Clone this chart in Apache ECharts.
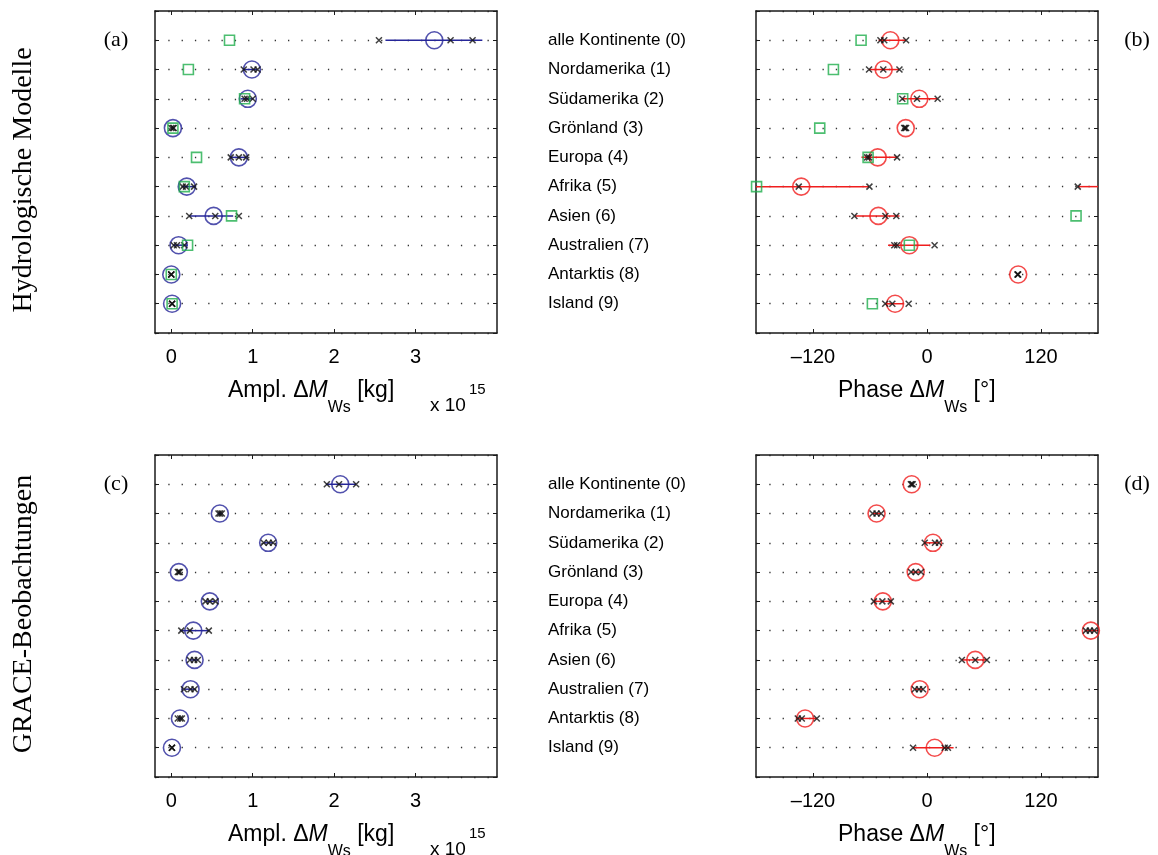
<!DOCTYPE html>
<html>
<head>
<meta charset="utf-8">
<script src="https://cdn.jsdelivr.net/npm/echarts@6/dist/echarts.min.js"></script>
<style>html,body{margin:0;padding:0;background:#fff;}#c{width:1158px;height:855px;}</style>
</head>
<body>
<div id="c"></div>
<script>
// ---------------- data ----------------
const categories = ['alle Kontinente (0)', 'Nordamerika (1)', 'Südamerika (2)', 'Grönland (3)', 'Europa (4)',
  'Afrika (5)', 'Asien (6)', 'Australien (7)', 'Antarktis (8)', 'Island (9)'];
const rows = [0, 1, 2, 3, 4, 5, 6, 7, 8, 9];
const ampTicks = [0, 1, 2, 3];
const phaseTicks = [-120, 0, 120];

// (a) hydrological models, amplitude [1e15 kg]
const ampHydMean = [3.23, 0.99, 0.94, 0.02, 0.83, 0.19, 0.52, 0.09, 0.00, 0.01];
const ampHydLo   = [2.63, 0.89, 0.85, 0.00, 0.73, 0.14, 0.22, 0.02, 0.00, 0.00];
const ampHydHi   = [3.82, 1.06, 1.01, 0.04, 0.92, 0.30, 0.76, 0.20, 0.01, 0.02];
const ampHydModels = [[2.55, 3.43, 3.70], [0.89, 1.01, 1.06], [0.90, 0.93, 1.00], [0.00, 0.02, 0.03], [0.73, 0.83, 0.92],
  [0.14, 0.18, 0.28], [0.22, 0.54, 0.83], [0.03, 0.07, 0.16], [0.00, 0.00, 0.00], [0.01, 0.01, 0.01]];
const ampHydSquare = [0.715, 0.21, 0.90, 0.02, 0.31, 0.16, 0.74, 0.20, 0.00, 0.01];

// (b) hydrological models, phase [deg]
const phHydMean = [-38.6, -45.6, -8.1, -22.4, -51.9, -132.4, -51.2, -18.6, 96.0, -33.6];
const phHydLo   = [-51, -61, -26, -24, -69, -201, -76, -41, 95, -44];
const phHydHi   = [-22, -29, 11, -21, -31, -61, -29, 3.5, 97, -25];
const phHydModels = [[-49, -45, -22], [-61, -46, -29], [-26, -10.5, 11.2], [-24, -23, -22], [-63, -61, -31.5],
  [-135, -60.6, 158.7], [-76.4, -43.8, -32.3], [-34.4, -31.5, 8.0], [95.3, 95.5, 96], [-44, -36.5, -19.3]];
const phHydSquare = [-69.4, -98.5, -25.6, -112.9, -62, -179.4, 156.9, -18.6, null, -57.5];

// (c) GRACE observations, amplitude [1e15 kg]
const ampGrMean = [2.075, 0.596, 1.19, 0.093, 0.473, 0.27, 0.286, 0.236, 0.106, 0.008];
const ampGrLo   = [1.90, 0.57, 1.13, 0.08, 0.42, 0.105, 0.23, 0.16, 0.08, 0.005];
const ampGrHi   = [2.27, 0.62, 1.25, 0.11, 0.54, 0.46, 0.33, 0.29, 0.13, 0.01];
const ampGrModels = [[1.91, 2.06, 2.27], [0.58, 0.60, 0.62], [1.135, 1.196, 1.25], [0.08, 0.093, 0.105], [0.42, 0.473, 0.543],
  [0.123, 0.228, 0.461], [0.228, 0.28, 0.326], [0.155, 0.236, 0.286], [0.08, 0.11, 0.13], [0.008, 0.008, 0.008]];

// (d) GRACE observations, phase [deg]
const phGrMean = [-16.1, -53.1, 6.3, -11.9, -46.5, 172.5, 50.8, -7.7, -128.3, 8.1];
const phGrLo   = [-17.5, -57.3, -2.4, -16.8, -56, 166, 36.7, -12.9, -136.5, -14.7];
const phGrHi   = [-14.5, -48.3, 12.6, -6.3, -38, 179, 63, -4.2, -116, 28];
const phGrModels = [[-17, -16, -15], [-57.3, -53.1, -48.3], [-2.4, 8.4, 12.6], [-16.8, -12, -6.3], [-55.9, -47, -38.1],
  [167.2, 171.4, 176], [36.7, 50.8, 63], [-12.9, -8.4, -4.2], [-136, -131.8, -116], [-14.7, 18.6, 22]];

// ---------------- style ----------------
const BLUE = '#262699', RED = '#f01e1e', GREEN = '#1fae4c', BLACK = '#111';
const SANS = 'Liberation Sans', SERIF = 'Liberation Serif';

const panels = [
  { left: 155, top: 11, kind: 'amp', mean: ampHydMean, lo: ampHydLo, hi: ampHydHi, models: ampHydModels, square: ampHydSquare, color: BLUE, names: false },
  { left: 756, top: 11, kind: 'phase', mean: phHydMean, lo: phHydLo, hi: phHydHi, models: phHydModels, square: phHydSquare, color: RED, names: true },
  { left: 155, top: 455, kind: 'amp', mean: ampGrMean, lo: ampGrLo, hi: ampGrHi, models: ampGrModels, square: null, color: BLUE, names: false },
  { left: 756, top: 455, kind: 'phase', mean: phGrMean, lo: phGrLo, hi: phGrHi, models: phGrModels, square: null, color: RED, names: true }
];
const W = 342, H = 322;

const grid = [], xAxis = [], yAxis = [], series = [];
const frame = { show: true, onZero: false, lineStyle: { color: '#1a1a1a', width: 1.5 } };
const tickIn = { show: true, inside: true, length: 4, lineStyle: { color: '#1a1a1a', width: 1 } };

function fmtPhase(v) { return v < 0 ? '\u2013' + Math.abs(v) : String(v); }

function segRender(color, min, max, period) {
  return function (params, api) {
    const lo = api.value(0), hi = api.value(1), y = api.value(2);
    const segs = [[Math.max(lo, min), Math.min(hi, max)]];
    if (period && lo < min) segs.push([lo + period, max]);
    if (period && hi > max) segs.push([min, hi - period]);
    return {
      type: 'group',
      children: segs.map(function (s) {
        const a = api.coord([s[0], y]), b = api.coord([s[1], y]);
        return { type: 'line', shape: { x1: a[0], y1: a[1], x2: b[0], y2: b[1] }, style: { stroke: color, lineWidth: 1.5 } };
      })
    };
  };
}

panels.forEach(function (p, i) {
  grid.push({ left: p.left, top: p.top, width: W, height: H });
  const isAmp = p.kind === 'amp';
  const min = isAmp ? -0.2 : -180, max = isAmp ? 4 : 180;
  const ticks = isAmp ? ampTicks : phaseTicks;
  xAxis.push({
    type: 'value', gridIndex: i, position: 'bottom', min: min, max: max,
    axisLine: frame, axisTick: Object.assign({}, tickIn, { customValues: ticks }),
    axisLabel: { show: true, customValues: ticks, formatter: isAmp ? (v) => String(v) : fmtPhase, fontFamily: SANS, fontSize: 20, color: '#000', margin: 14 },
    splitLine: { show: false }
  });
  xAxis.push({
    type: 'value', gridIndex: i, position: 'top', min: min, max: max,
    axisLine: frame, axisTick: Object.assign({}, tickIn, { customValues: ticks }),
    axisLabel: { show: false }, splitLine: { show: false }
  });
  yAxis.push({
    type: 'value', gridIndex: i, position: 'left', min: -1, max: 10, interval: 1, inverse: true,
    axisLine: frame, axisTick: tickIn,
    axisLabel: p.names ? { show: true, align: 'left', margin: p.left - 548, fontFamily: SANS, fontSize: 17, color: '#000',
      formatter: (v) => (v >= 0 && v < categories.length ? categories[v] : '') } : { show: false },
    splitLine: { show: true, lineStyle: { color: '#333', width: 1.3, type: [1.3, 12] } }
  });
  yAxis.push({
    type: 'value', gridIndex: i, position: 'right', min: -1, max: 10, interval: 1, inverse: true,
    axisLine: frame, axisTick: tickIn, axisLabel: { show: false }, splitLine: { show: false }
  });
  const xi = 2 * i, yi = 2 * i;
  // spread lines
  series.push({
    type: 'custom', xAxisIndex: xi, yAxisIndex: yi, silent: true, z: 2,
    renderItem: segRender(p.color, min, max, isAmp ? 0 : 360),
    encode: { x: [0, 1], y: 2 },
    data: rows.map((r) => [p.lo[r], p.hi[r], r])
  });
  // mean circles
  series.push({
    type: 'scatter', xAxisIndex: xi, yAxisIndex: yi, silent: true, z: 3,
    symbol: 'circle', symbolSize: 17,
    itemStyle: { color: 'rgba(0,0,0,0)', borderColor: p.color, borderWidth: 1.6 },
    data: rows.map((r) => [p.mean[r], r])
  });
  // individual models (crosses)
  const cross = [];
  rows.forEach((r) => p.models[r].forEach((v) => cross.push([v, r])));
  series.push({
    type: 'scatter', xAxisIndex: xi, yAxisIndex: yi, silent: true, z: 4,
    symbol: 'path://M0,0L10,10M10,0L0,10', symbolSize: 6,
    itemStyle: { color: 'rgba(0,0,0,0)', borderColor: BLACK, borderWidth: 1.5 },
    data: cross
  });
  // additional model (green squares)
  if (p.square) {
    series.push({
      type: 'scatter', xAxisIndex: xi, yAxisIndex: yi, silent: true, z: 5,
      symbol: 'rect', symbolSize: 10,
      itemStyle: { color: 'rgba(0,0,0,0)', borderColor: GREEN, borderWidth: 1.6 },
      data: rows.filter((r) => p.square[r] !== null).map((r) => [p.square[r], r])
    });
  }
});

// ---------------- texts ----------------
function txt(x, y, text, font, extra) {
  return Object.assign({
    type: 'text', x: x, y: y, silent: true,
    style: Object.assign({ text: text, fontFamily: font.family, fontSize: font.size, fill: '#000',
      align: font.align || 'left', verticalAlign: 'middle', textAlign: font.align || 'left', textVerticalAlign: 'middle' }, font.style || {})
  }, extra || {});
}
const richName = {
  i: { fontFamily: SANS, fontSize: 23, fontStyle: 'italic', fill: '#000' },
  s: { fontFamily: SANS, fontSize: 16, padding: [34, 0, 0, 0], fill: '#000' }
};
const richExp = {
  a: { fontFamily: SANS, fontSize: 19, fill: '#000', padding: [0, 3, 0, 0] },
  b: { fontFamily: SANS, fontSize: 15, padding: [0, 0, 32, 0], fill: '#000' }
};
const graphic = [];
[0, 444].forEach(function (dy, k) {
  graphic.push(txt(228, 391 + dy, 'Ampl. \u0394{i|M}{s|Ws} [kg]', { family: SANS, size: 23, style: { rich: richName } }));
  graphic.push(txt(838, 391 + dy, 'Phase \u0394{i|M}{s|Ws} [\u00b0]', { family: SANS, size: 23, style: { rich: richName } }));
  graphic.push(txt(430, 406 + dy, '{a|x 10}{b|15}', { family: SANS, size: 19, style: { rich: richExp } }));
  graphic.push(txt(116, 40 + dy, k === 0 ? '(a)' : '(c)', { family: SERIF, size: 22, align: 'center' }));
  graphic.push(txt(1137, 40 + dy, k === 0 ? '(b)' : '(d)', { family: SERIF, size: 22, align: 'center' }));
});
graphic.push(txt(24, 180, 'Hydrologische Modelle', { family: SERIF, size: 28, align: 'center' }, { rotation: Math.PI / 2 }));
graphic.push(txt(24, 614, 'GRACE-Beobachtungen', { family: SERIF, size: 28, align: 'center' }, { rotation: Math.PI / 2 }));

const chart = echarts.init(document.getElementById('c'), null, { renderer: 'canvas' });
chart.setOption({
  animation: false,
  backgroundColor: '#fff',
  grid: grid, xAxis: xAxis, yAxis: yAxis, series: series, graphic: graphic
});
</script>
</body>
</html>
